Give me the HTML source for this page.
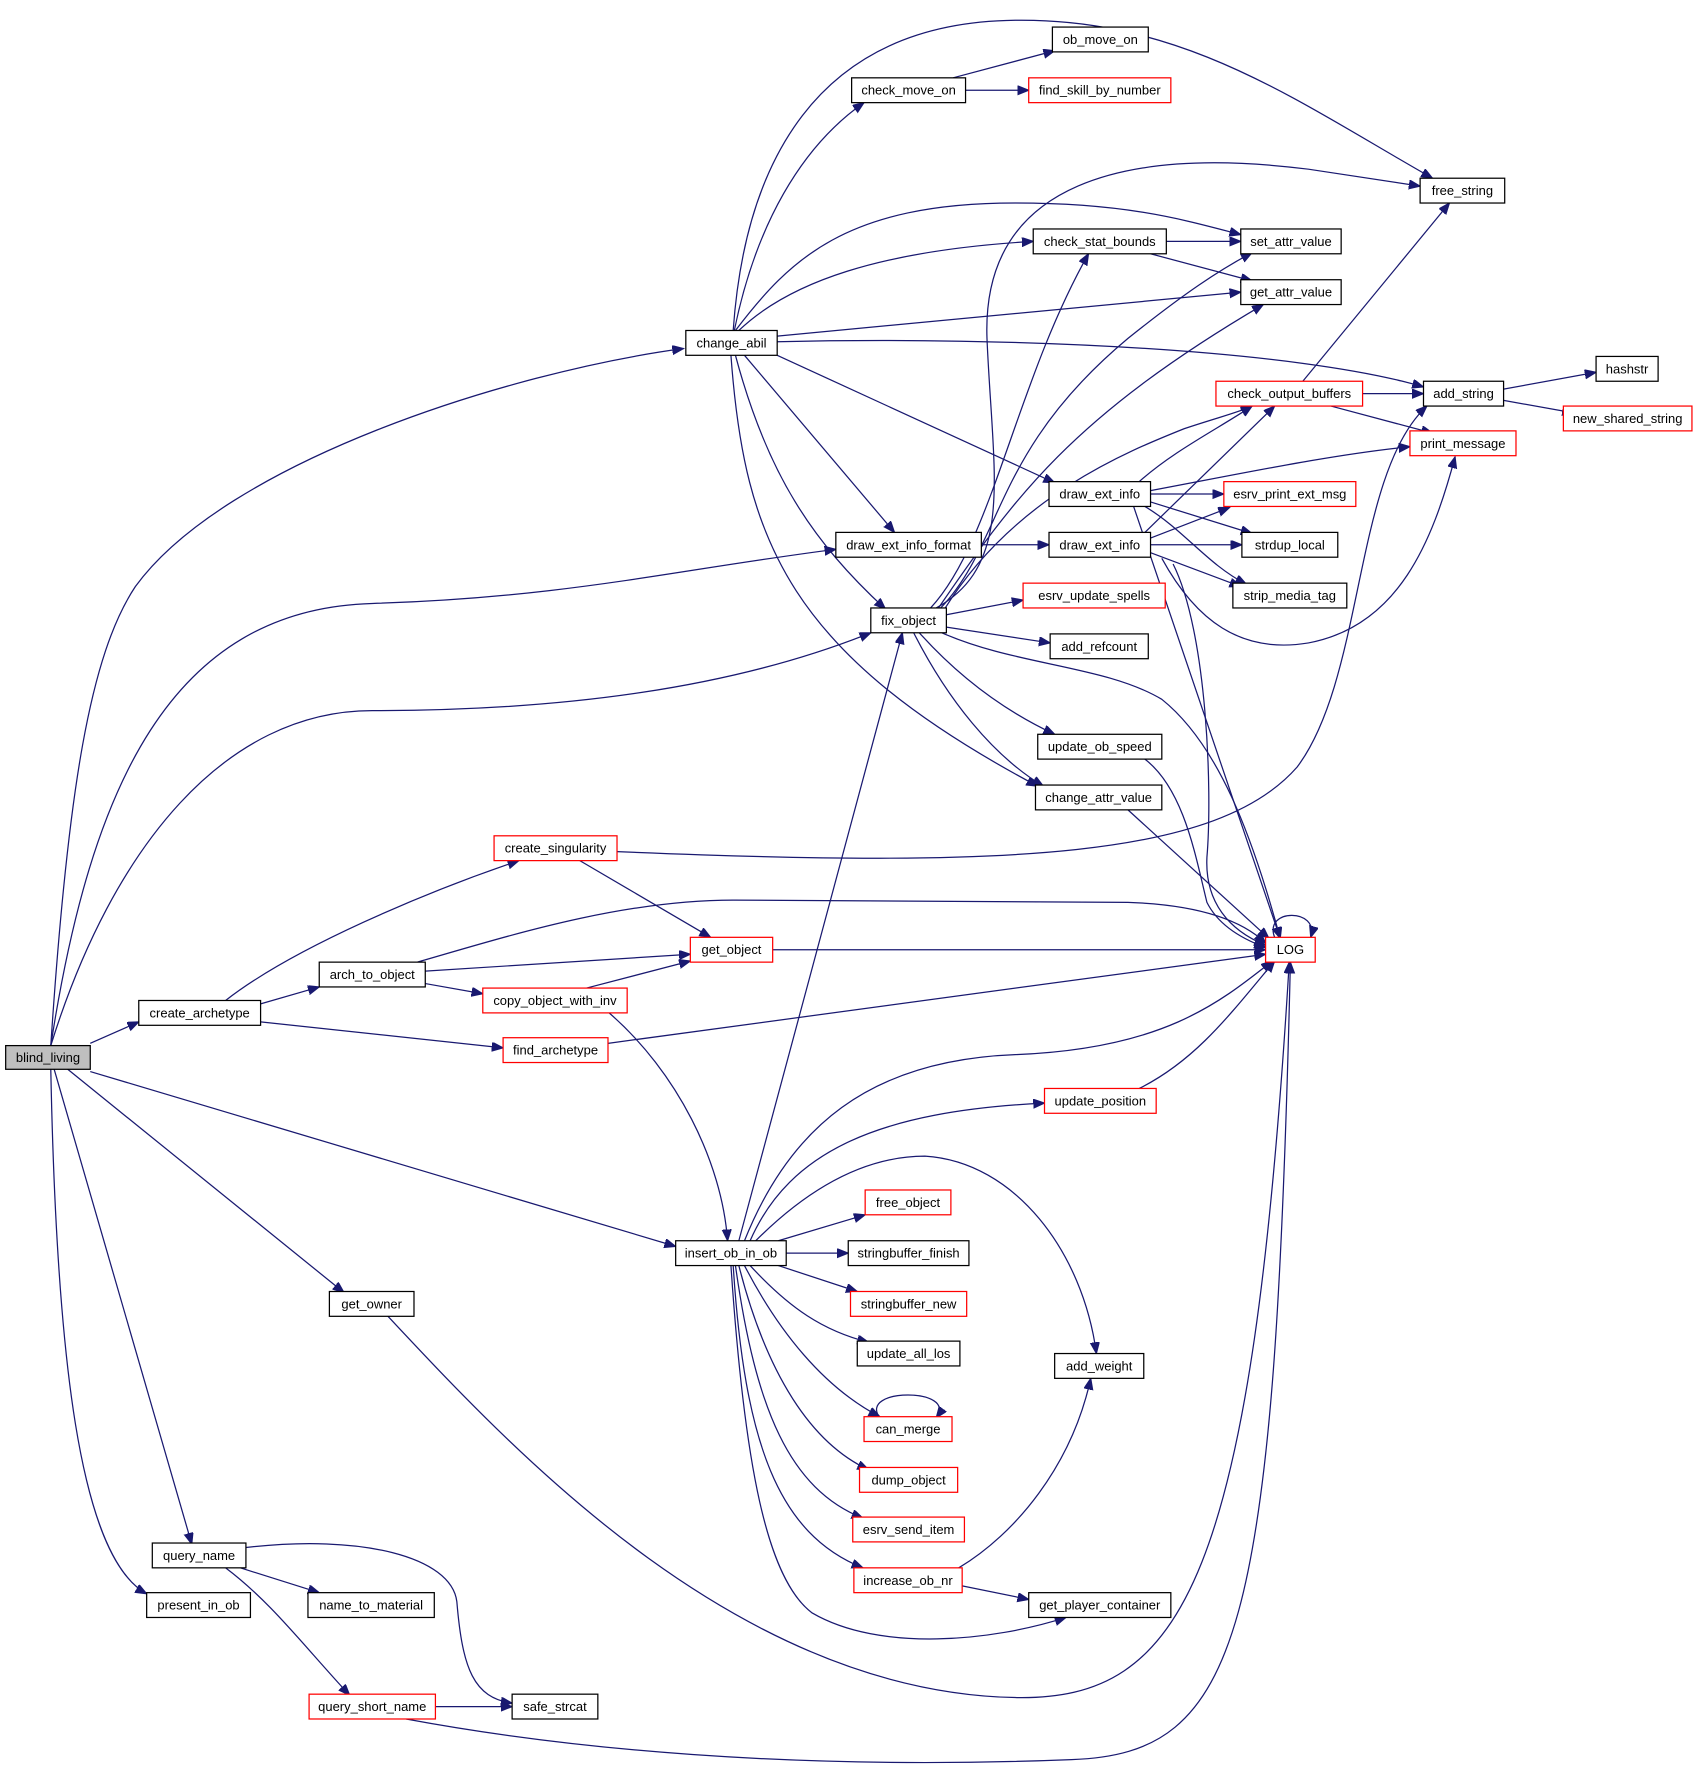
<!DOCTYPE html>
<html><head><meta charset="utf-8"><style>
html,body{margin:0;padding:0;background:#fff;}
svg{display:block;}
text{font-family:"Liberation Sans",sans-serif;font-size:11.5px;fill:#000;}
.e{fill:none;stroke:#191970;stroke-width:1.1;marker-end:url(#a);}
.n{fill:#fff;stroke:#000;stroke-width:1.1;}
.r{fill:#fff;stroke:#f00;stroke-width:1.1;}
</style></head><body>
<svg width="1701" height="1772" viewBox="0 0 1508 1571" xmlns="http://www.w3.org/2000/svg">
<defs><marker id="a" markerUnits="userSpaceOnUse" markerWidth="12" markerHeight="10" refX="10" refY="4" orient="auto"><path d="M0,0 L10,4 L0,8 Z" fill="#191970" stroke="#191970"/></marker></defs>
<g>
<path class="e" d="M45,927 C60,700 80,580 120,520 C200,410 450,330 606,309"/>
<path class="e" d="M45,927 C80,700 150,540 330,535 C500,530 600,505 741,487"/>
<path class="e" d="M45,927 C100,750 200,630 330,630 C500,630 650,610 772,561"/>
<path class="e" d="M80,925 L123,906"/>
<path class="e" d="M80,950 L599,1105"/>
<path class="e" d="M60,948 L305,1146"/>
<path class="e" d="M48,948 L170,1369"/>
<path class="e" d="M45,948 C50,1200 70,1380 130,1413"/>
<path class="e" d="M200,887 C260,840 380,790 460,763"/>
<path class="e" d="M231,890 L283,875"/>
<path class="e" d="M231,906 L446,929"/>
<path class="e" d="M370,853 C450,830 550,798 650,798 L1000,800 C1060,802 1100,815 1122,836"/>
<path class="e" d="M377,861 L612,846"/>
<path class="e" d="M377,872 L428,881"/>
<path class="e" d="M514,763 L630,831"/>
<path class="e" d="M547,755 C900,770 1080,760 1150,680 C1210,600 1200,420 1265,360"/>
<path class="e" d="M520,876 L612,852"/>
<path class="e" d="M540,898 C600,950 640,1030 645,1100"/>
<path class="e" d="M539,925 L1122,846"/>
<path class="e" d="M685,842 L1122,842"/>
<path class="e" d="M343,1166 C450,1280 650,1500 900,1505 C1050,1508 1110,1400 1143,853"/>
<path class="e" d="M213,1390 L283,1412"/>
<path class="e" d="M200,1390 C240,1420 270,1460 310,1503"/>
<path class="e" d="M218,1372 C320,1360 400,1380 405,1420 C410,1480 420,1505 454,1510"/>
<path class="e" d="M386,1513 L454,1513"/>
<path class="e" d="M360,1524 C500,1550 700,1570 950,1560 C1100,1555 1130,1450 1144,853"/>
<path class="e" d="M650,293 C660,150 720,20 900,18 C1050,16 1150,90 1270,158"/>
<path class="e" d="M651,293 C670,200 710,130 766,91"/>
<path class="e" d="M652,293 C700,230 750,180 900,180 C1000,180 1050,195 1100,208"/>
<path class="e" d="M655,293 C700,250 780,222 916,214"/>
<path class="e" d="M689,298 L1100,259"/>
<path class="e" d="M689,303 C900,298 1150,310 1262,343"/>
<path class="e" d="M689,315 L935,428"/>
<path class="e" d="M660,315 L793,472"/>
<path class="e" d="M652,315 C680,420 720,480 785,540"/>
<path class="e" d="M648,315 C660,480 700,580 920,697"/>
<path class="e" d="M845,69 L935,45"/>
<path class="e" d="M856,80 L912,80"/>
<path class="e" d="M1034,214 L1100,214"/>
<path class="e" d="M1020,225 L1110,249"/>
<path class="e" d="M1155,338 L1285,180"/>
<path class="e" d="M1208,349 L1262,349"/>
<path class="e" d="M1180,360 L1270,384"/>
<path class="e" d="M1333,345 L1415,330"/>
<path class="e" d="M1333,355 L1395,366"/>
<path class="e" d="M1010,427 C1040,400 1080,380 1110,360"/>
<path class="e" d="M1020,435 C1100,420 1180,403 1250,396"/>
<path class="e" d="M1020,438 L1085,438"/>
<path class="e" d="M1020,445 L1110,473"/>
<path class="e" d="M1015,449 C1050,470 1070,500 1105,518"/>
<path class="e" d="M1005,449 L1135,832"/>
<path class="e" d="M1015,472 L1130,360"/>
<path class="e" d="M1020,477 L1090,450"/>
<path class="e" d="M1020,483 L1101,483"/>
<path class="e" d="M1020,490 L1100,520"/>
<path class="e" d="M1030,495 C1060,550 1100,580 1160,570 C1240,555 1270,480 1290,405"/>
<path class="e" d="M1040,500 C1070,560 1075,700 1070,760 C1068,800 1090,825 1122,838"/>
<path class="e" d="M870,483 L930,483"/>
<path class="e" d="M830,539 C900,500 880,420 875,300 C870,160 1000,130 1160,150 L1259,165"/>
<path class="e" d="M834,539 C890,480 880,400 1000,300 C1050,260 1080,240 1110,224"/>
<path class="e" d="M825,539 C880,480 900,340 965,225"/>
<path class="e" d="M832,539 C900,440 950,370 1120,270"/>
<path class="e" d="M838,539 C900,440 1000,400 1050,380 C1080,370 1100,365 1110,360"/>
<path class="e" d="M839,545 L907,532"/>
<path class="e" d="M839,556 L931,570"/>
<path class="e" d="M815,561 C850,600 890,630 935,651"/>
<path class="e" d="M810,561 C840,620 880,670 925,697"/>
<path class="e" d="M835,561 C900,590 980,590 1030,620 C1080,660 1110,740 1135,832"/>
<path class="e" d="M1015,673 C1050,700 1060,760 1070,800 C1080,820 1100,832 1122,840"/>
<path class="e" d="M1000,718 L1125,832"/>
<path class="e" d="M1130,831 C1120,805 1170,805 1162,831"/>
<path class="e" d="M1010,965 C1060,940 1090,900 1130,852"/>
<path class="e" d="M655,1100 L800,561"/>
<path class="e" d="M660,1100 C700,1000 770,940 900,935 C1030,930 1080,890 1128,852"/>
<path class="e" d="M665,1100 C700,1020 780,985 926,978"/>
<path class="e" d="M670,1100 C720,1050 770,1025 820,1025 C900,1030 960,1110 972,1200"/>
<path class="e" d="M690,1100 L767,1077"/>
<path class="e" d="M697,1111 L752,1111"/>
<path class="e" d="M690,1122 L760,1145"/>
<path class="e" d="M665,1122 C700,1160 730,1180 770,1190"/>
<path class="e" d="M660,1122 C690,1180 730,1230 780,1256"/>
<path class="e" d="M655,1122 C680,1220 720,1280 770,1303"/>
<path class="e" d="M652,1122 C670,1250 700,1320 765,1346"/>
<path class="e" d="M650,1122 C660,1280 690,1360 765,1390"/>
<path class="e" d="M648,1122 C660,1300 680,1400 720,1430 C780,1465 880,1455 945,1434"/>
<path class="e" d="M780,1257 C760,1230 850,1230 830,1257"/>
<path class="e" d="M850,1390 C900,1360 950,1300 967,1222"/>
<path class="e" d="M853,1406 L912,1418"/>
</g>
<g>
<rect x="5" y="927" width="75" height="21" fill="#bfbfbf" stroke="#000" stroke-width="1.1"/><text x="42.5" y="941.5" text-anchor="middle">blind_living</text>
</g>
<g text-anchor="middle">
<rect class="n" x="608" y="293" width="81" height="22"/><text x="648.5" y="308">change_abil</text>
<rect class="n" x="755" y="69" width="101" height="22"/><text x="805.5" y="84">check_move_on</text>
<rect class="n" x="933" y="24" width="85" height="22"/><text x="975.5" y="39">ob_move_on</text>
<rect class="r" x="912" y="69" width="126" height="22"/><text x="975" y="84">find_skill_by_number</text>
<rect class="n" x="1259" y="158" width="75" height="22"/><text x="1296.5" y="173">free_string</text>
<rect class="n" x="916" y="203" width="118" height="22"/><text x="975" y="218">check_stat_bounds</text>
<rect class="n" x="1100" y="203" width="89" height="22"/><text x="1144.5" y="218">set_attr_value</text>
<rect class="n" x="1100" y="248" width="89" height="22"/><text x="1144.5" y="263">get_attr_value</text>
<rect class="n" x="1415" y="316" width="55" height="22"/><text x="1442.5" y="331">hashstr</text>
<rect class="n" x="1262" y="338" width="71" height="22"/><text x="1297.5" y="353">add_string</text>
<rect class="r" x="1078" y="338" width="130" height="22"/><text x="1143" y="353">check_output_buffers</text>
<rect class="r" x="1386" y="360" width="114" height="22"/><text x="1443" y="375">new_shared_string</text>
<rect class="r" x="1250" y="382" width="94" height="22"/><text x="1297" y="397">print_message</text>
<rect class="n" x="930" y="427" width="90" height="22"/><text x="975" y="442">draw_ext_info</text>
<rect class="r" x="1085" y="427" width="117" height="22"/><text x="1143.5" y="442">esrv_print_ext_msg</text>
<rect class="n" x="741" y="472" width="129" height="22"/><text x="805.5" y="487">draw_ext_info_format</text>
<rect class="n" x="930" y="472" width="90" height="22"/><text x="975" y="487">draw_ext_info</text>
<rect class="n" x="1101" y="472" width="85" height="22"/><text x="1143.5" y="487">strdup_local</text>
<rect class="n" x="1093" y="517" width="101" height="22"/><text x="1143.5" y="532">strip_media_tag</text>
<rect class="n" x="772" y="539" width="67" height="22"/><text x="805.5" y="554">fix_object</text>
<rect class="r" x="907" y="517" width="126" height="22"/><text x="970" y="532">esrv_update_spells</text>
<rect class="n" x="931" y="562" width="87" height="22"/><text x="974.5" y="577">add_refcount</text>
<rect class="n" x="920" y="651" width="110" height="22"/><text x="975" y="666">update_ob_speed</text>
<rect class="n" x="918" y="696" width="112" height="22"/><text x="974" y="711">change_attr_value</text>
<rect class="r" x="438" y="741" width="109" height="22"/><text x="492.5" y="756">create_singularity</text>
<rect class="r" x="1122" y="831" width="44" height="22"/><text x="1144" y="846">LOG</text>
<rect class="r" x="612" y="831" width="73" height="22"/><text x="648.5" y="846">get_object</text>
<rect class="n" x="283" y="853" width="94" height="22"/><text x="330" y="868">arch_to_object</text>
<rect class="n" x="123" y="887" width="108" height="22"/><text x="177" y="902">create_archetype</text>
<rect class="r" x="428" y="876" width="128" height="22"/><text x="492" y="891">copy_object_with_inv</text>
<rect class="r" x="446" y="920" width="93" height="22"/><text x="492.5" y="935">find_archetype</text>
<rect class="r" x="926" y="965" width="99" height="22"/><text x="975.5" y="980">update_position</text>
<rect class="r" x="767" y="1055" width="76" height="22"/><text x="805" y="1070">free_object</text>
<rect class="n" x="599" y="1100" width="98" height="22"/><text x="648" y="1115">insert_ob_in_ob</text>
<rect class="n" x="752" y="1100" width="107" height="22"/><text x="805.5" y="1115">stringbuffer_finish</text>
<rect class="r" x="754" y="1145" width="103" height="22"/><text x="805.5" y="1160">stringbuffer_new</text>
<rect class="n" x="760" y="1189" width="91" height="22"/><text x="805.5" y="1204">update_all_los</text>
<rect class="n" x="935" y="1200" width="79" height="22"/><text x="974.5" y="1215">add_weight</text>
<rect class="r" x="766" y="1256" width="78" height="22"/><text x="805" y="1271">can_merge</text>
<rect class="r" x="762" y="1301" width="87" height="22"/><text x="805.5" y="1316">dump_object</text>
<rect class="r" x="756" y="1345" width="99" height="22"/><text x="805.5" y="1360">esrv_send_item</text>
<rect class="r" x="757" y="1390" width="96" height="22"/><text x="805" y="1405">increase_ob_nr</text>
<rect class="n" x="912" y="1412" width="126" height="22"/><text x="975" y="1427">get_player_container</text>
<rect class="n" x="292" y="1145" width="75" height="22"/><text x="329.5" y="1160">get_owner</text>
<rect class="n" x="135" y="1368" width="83" height="22"/><text x="176.5" y="1383">query_name</text>
<rect class="n" x="130" y="1412" width="92" height="22"/><text x="176" y="1427">present_in_ob</text>
<rect class="n" x="273" y="1412" width="112" height="22"/><text x="329" y="1427">name_to_material</text>
<rect class="r" x="274" y="1502" width="112" height="22"/><text x="330" y="1517">query_short_name</text>
<rect class="n" x="454" y="1502" width="76" height="22"/><text x="492" y="1517">safe_strcat</text>
</g>
</svg>
</body></html>
